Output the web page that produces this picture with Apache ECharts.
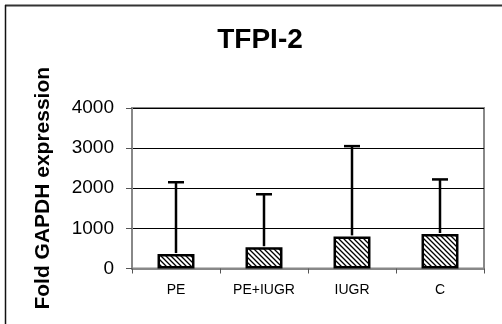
<!DOCTYPE html>
<html><head><meta charset="utf-8">
<script src="https://cdn.jsdelivr.net/npm/echarts@6/dist/echarts.min.js"></script>
<style>html,body{margin:0;padding:0;background:#fff}#c{width:502px;height:324px}</style>
</head><body><div id="c"></div>
<script>
const categories = ['PE', 'PE+IUGR', 'IUGR', 'C'];
const means = [360, 530, 800, 860];
const upperErrors = [2150, 1850, 3050, 2220];
const yTicks = [0, 1000, 2000, 3000, 4000];

function hatch() {
  const s = 5, c = document.createElement('canvas');
  c.width = s; c.height = s;
  const g = c.getContext('2d');
  g.fillStyle = '#fff'; g.fillRect(0, 0, s, s);
  g.strokeStyle = '#000'; g.lineWidth = 1.3;
  g.beginPath();
  g.moveTo(-1, -1); g.lineTo(s + 1, s + 1);
  g.moveTo(-1, s - 1); g.lineTo(1, s + 1);
  g.moveTo(s - 1, -1); g.lineTo(s + 1, 1);
  g.stroke();
  return c;
}

const chart = echarts.init(document.getElementById('c'));
const font = '"Liberation Sans", Arial, sans-serif';
chart.setOption({
  animation: false,
  title: { text: 'TFPI-2', left: 255, top: 21, textAlign: 'center',
    textStyle: { fontFamily: font, fontSize: 28, fontWeight: 'bold', color: '#000' } },
  grid: { left: 132, right: 18, top: 108, bottom: 55.5, show: true, borderColor: '#888', borderWidth: 2, backgroundColor: '#fff' },
  xAxis: { type: 'category', data: categories,
    axisLine: { lineStyle: { color: '#888', width: 2 } },
    axisTick: { show: true, length: 5, lineStyle: { color: '#555', width: 1 } },
    axisLabel: { margin: 15, fontFamily: font, fontSize: 14, color: '#000' } },
  yAxis: { type: 'value', min: yTicks[0], max: yTicks[yTicks.length - 1], interval: 1000,
    name: 'Fold GAPDH expression', nameLocation: 'middle', nameGap: 78,
    nameTextStyle: { fontFamily: font, fontSize: 21, fontWeight: 'bold', color: '#000' },
    axisLine: { show: true, lineStyle: { color: '#888', width: 2 } },
    axisTick: { show: true, length: 6, lineStyle: { color: '#555', width: 1 } },
    axisLabel: { margin: 18, fontFamily: font, fontSize: 19, color: '#000', formatter: v => String(v) },
    splitLine: { lineStyle: { color: '#000', width: 1 } } },
  graphic: [
    { type: 'line', shape: { x1: 5, y1: 5.5, x2: 502, y2: 5.5 }, style: { stroke: '#333', lineWidth: 2 }, z: 100 },
    { type: 'line', shape: { x1: 5.5, y1: 5, x2: 5.5, y2: 324 }, style: { stroke: '#111', lineWidth: 1.5 }, z: 100 }
  ],
  series: [
    { type: 'bar', data: means, barWidth: '42%',
      itemStyle: { color: { image: hatch(), repeat: 'repeat' }, borderColor: '#000', borderWidth: 2.5 }, z: 3 },
    { type: 'custom', z: 4,
      data: means.map((m, i) => [i, m, upperErrors[i]]),
      renderItem: function (params, api) {
        const p0 = api.coord([api.value(0), api.value(1)]);
        const p1 = api.coord([api.value(0), api.value(2)]);
        const hw = 8;
        return { type: 'group', children: [
          { type: 'line', shape: { x1: p0[0], y1: p0[1] - 1, x2: p1[0], y2: p1[1] }, style: { stroke: '#000', lineWidth: 2.5 } },
          { type: 'line', shape: { x1: p1[0] - hw, y1: p1[1], x2: p1[0] + hw, y2: p1[1] }, style: { stroke: '#000', lineWidth: 2.5 } }
        ] };
      } }
  ]
});
</script></body></html>
